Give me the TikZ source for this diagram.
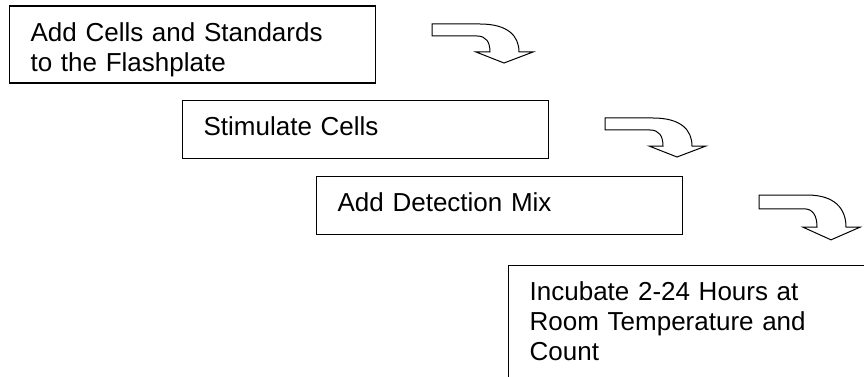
\documentclass[tikz,border=0pt]{standalone}
\usepackage{fontspec}
\setmainfont{Liberation Sans}

\tikzset{
  stepbox/.style={draw, line width=1.3pt, anchor=north west, align=left,
    inner xsep=21pt, inner ysep=0pt, text width=324pt, text height=35pt,
    font=\fontsize{26}{30}\selectfont},
  bentarrow/.pic={
    \draw[line width=1pt, fill=white] (0,0) -- (48,0)
      .. controls (76,0) and (87,-12) .. (87,-28) -- (101,-28) -- (72,-39)
      -- (44,-28) -- (58,-28) .. controls (58,-18) and (54,-12) .. (45,-12)
      -- (0,-12) -- cycle;
  }
}

\begin{document}
\begin{tikzpicture}[x=1pt, y=1pt]
  \clip (0,0) rectangle (864,-377);

  % the four steps
  \node[stepbox, text depth=42pt] (cells) at (9,-5.5)
    {Add Cells and Standards\\to the Flashplate};
  \node[stepbox, text depth=23pt] (stim) at (182,-100)
    {Stimulate Cells};
  \node[stepbox, text depth=22.5pt] (mix) at (316,-176)
    {Add Detection Mix};
  \node[stepbox, text depth=120pt] (count) at (508,-265)
    {Incubate 2-24 Hours at\\Room Temperature and\\Count};

  % bent arrows between steps
  \pic at (432,-24) {bentarrow};
  \pic at (605,-118) {bentarrow};
  \pic[yscale=1.15] at (759,-195) {bentarrow};
\end{tikzpicture}
\end{document}
